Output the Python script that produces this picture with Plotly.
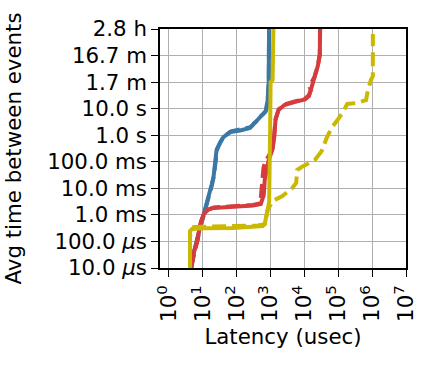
import plotly.graph_objects as go

# ---- tick definitions ----
x_tick_vals = [1, 10, 100, 1e3, 1e4, 1e5, 1e6, 1e7]
x_tick_text = ["10<sup>%d</sup>" % i for i in range(8)]
y_tick_vals = [1e-5, 1e-4, 1e-3, 1e-2, 1e-1, 1, 10, 100, 1000, 10000]
y_tick_text = ["10.0 <i>μ</i>s", "100.0 <i>μ</i>s", "1.0 ms", "10.0 ms", "100.0 ms",
               "1.0 s", "10.0 s", "1.7 m", "16.7 m", "2.8 h"]

# ---- series (latency in usec, avg time between events in seconds) ----
blue_solid_lat = [4.49, 5.48, 7.66, 9.35, 12.2, 14.9, 18.2, 20.8, 23.0, 25.5, 32.2, 40.7,
                  65, 127, 247, 302, 422, 590, 722, 825, 882, 911]
blue_solid_gap = [1e-5, 4.0e-5, 2.27e-4, 5.4e-4, 1.82e-3, 5.14e-3, 0.0133, 0.0267, 0.0898,
                  0.277, 0.508, 0.855, 1.32, 1.50, 1.87, 2.42, 3.73, 5.76, 8.15, 21.1, 101, 2e4]

blue_dash_lat = [4.49, 5.6, 7.8, 9.5, 12.5, 15.3, 18.8, 21.3, 23.5, 26.5, 33, 42, 68, 130,
                 240, 290, 330, 400, 450, 600, 700, 760, 830, 890, 905]
blue_dash_gap = [1e-5, 4.2e-5, 2.3e-4, 5.6e-4, 1.9e-3, 5.5e-3, 0.014, 0.03, 0.1, 0.3, 0.55,
                 0.9, 1.4, 1.6, 1.95, 2.3, 2.9, 3.4, 4.6, 6.2, 7.5, 10, 25, 110, 2e4]

red_solid_lat = [4.49, 5.48, 6.7, 7.66, 8.75, 10.7, 14.0, 20.8, 45, 79.4, 150, 302, 516,
                 631, 675, 771, 882, 1076, 1230, 1315, 1406, 1718, 2565, 5000, 10450,
                 13650, 15600, 20400, 24900, 28450, 29400]
red_solid_gap = [1e-5, 4.0e-5, 9.5e-5, 2.27e-4, 5.4e-4, 1.08e-3, 1.53e-3, 1.82e-3, 1.9e-3,
                 1.98e-3, 2.1e-3, 2.25e-3, 2.57e-3, 5.6e-3, 0.0206, 0.0582, 0.1165, 0.233,
                 0.508, 1.32, 3.73, 8.89, 13.7, 17.8, 22.1, 29.9, 54.9, 155, 403, 1046, 2e4]

red_dash_lat = [4.6, 5.6, 6.9, 7.8, 8.9, 11, 14.5, 21, 40, 80, 160, 300, 500, 516, 552,
                580, 620, 700, 900, 1150, 1250, 1300, 1400, 1750, 2600, 5000, 10000, 13500,
                15600, 14500, 15500, 20000, 25000, 28500, 29000]
red_dash_gap = [1e-5, 4.2e-5, 1e-4, 2.4e-4, 5.6e-4, 1.1e-3, 1.6e-3, 1.9e-3, 2.0e-3, 2.1e-3,
                2.2e-3, 2.35e-3, 2.7e-3, 5e-3, 0.012, 0.03, 0.06, 0.1, 0.17, 0.3, 0.6, 1.5,
                4, 9.5, 14.5, 18.5, 23, 32, 50, 62, 90, 160, 420, 1100, 2e4]

yellow_solid_lat = [4.2, 4.2, 4.8, 10.7, 79.4, 302, 590, 675, 745, 911, 973, 1006, 1150, 1230]
yellow_solid_gap = [1e-5, 2.47e-4, 2.94e-4, 3.13e-4, 3.2e-4, 3.5e-4, 3.81e-4, 4.54e-4,
                    9.9e-4, 3.05e-3, 1.57, 101, 120, 2e4]

yellow_dash_lat = [4.2, 4.2, 5.13, 5.48, 79.4, 422, 675, 825, 1150, 2244, 4375, 5720, 6120,
                   8550, 20400, 32500, 45400, 63400, 94800, 132500, 185000, 337000, 659000,
                   752000, 919000, 1050000, 1050000]
yellow_dash_gap = [1e-5, 1.6e-4, 2.82e-4, 3.5e-4, 3.81e-4, 3.98e-4, 4.5e-4, 1.53e-3, 3.33e-3,
                   5.14e-3, 0.0103, 0.0159, 0.049, 0.065, 0.1165, 0.254, 0.785, 1.87, 3.73,
                   6.86, 15.0, 16.3, 21.1, 50.4, 120, 169, 6460]

BLUE = "#3b78a5"
RED = "#d63c3c"
YELLOW = "#cbb800"
DASH = "14px,6px"

series = [
    (blue_solid_lat, blue_solid_gap, BLUE, "solid"),
    (blue_dash_lat, blue_dash_gap, BLUE, DASH),
    (red_solid_lat, red_solid_gap, RED, "solid"),
    (red_dash_lat, red_dash_gap, RED, DASH),
    (yellow_solid_lat, yellow_solid_gap, YELLOW, "solid"),
    (yellow_dash_lat, yellow_dash_gap, YELLOW, DASH),
]

fig = go.Figure()
for xs, ys, col, dash in series:
    fig.add_trace(go.Scatter(x=xs, y=ys, mode="lines",
                             line=dict(color=col, width=4, dash=dash),
                             showlegend=False, hoverinfo="skip"))

FONT = "DejaVu Sans"
SIZE = 21.33
fig.update_layout(
    width=432, height=365,
    margin=dict(l=156, r=26, t=29, b=97, pad=0),
    paper_bgcolor="white", plot_bgcolor="white",
    font=dict(family=FONT, size=SIZE, color="black"),
    showlegend=False,
)
fig.update_xaxes(
    type="log", range=[-0.263, 7],
    tickmode="array", tickvals=x_tick_vals, ticktext=x_tick_text, tickangle=-90,
    ticks="outside", ticklen=7, tickwidth=1, tickcolor="black",
    showgrid=True, gridcolor="#b0b0b0", gridwidth=1,
    showline=True, linecolor="black", linewidth=1.5, mirror=True,
    zeroline=False,
    title=dict(text="Latency (usec)", standoff=8, font=dict(size=SIZE)),
    tickfont=dict(size=SIZE),
)
fig.update_yaxes(
    type="log", range=[-5, 4],
    tickmode="array", tickvals=y_tick_vals, ticktext=y_tick_text,
    ticks="outside", ticklen=7, tickwidth=1, tickcolor="black",
    showgrid=True, gridcolor="#b0b0b0", gridwidth=1,
    showline=True, linecolor="black", linewidth=1.5, mirror=True,
    zeroline=False,
    title=dict(text="Avg time between events", standoff=20, font=dict(size=SIZE)),
    tickfont=dict(size=SIZE),
)

fig.write_html("out.html")
